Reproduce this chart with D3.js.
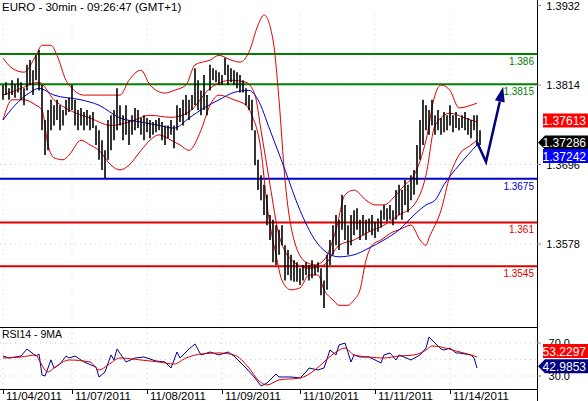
<!DOCTYPE html>
<html><head><meta charset="utf-8">
<script src="https://cdn.jsdelivr.net/npm/d3@7"></script>
<style>body{margin:0;background:#fff}svg{display:block;font-family:"Liberation Sans",Arial,sans-serif}</style>
</head><body><svg id="c" width="588" height="401"></svg>
<script>
const barHi=[1.3814,1.3818,1.3809,1.3821,1.3815,1.3824,1.3818,1.3809,1.3844,1.3851,1.3836,1.3858,1.3866,1.3814,1.3762,1.3777,1.3792,1.3784,1.3792,1.3784,1.3777,1.3792,1.3795,1.3814,1.3792,1.3777,1.3780,1.3774,1.3777,1.3769,1.3774,1.3754,1.3747,1.3732,1.3717,1.3762,1.3769,1.3777,1.3809,1.3784,1.3769,1.3784,1.3762,1.3769,1.3780,1.3777,1.3765,1.3769,1.3765,1.3762,1.3759,1.3762,1.3765,1.3759,1.3754,1.3754,1.3762,1.3754,1.3784,1.3780,1.3792,1.3799,1.3792,1.3799,1.3839,1.3821,1.3806,1.3829,1.3799,1.3844,1.3839,1.3836,1.3833,1.3829,1.3854,1.3844,1.3839,1.3836,1.3833,1.3829,1.3821,1.3809,1.3799,1.3792,1.3747,1.3703,1.3680,1.3666,1.3651,1.3621,1.3614,1.3606,1.3599,1.3606,1.3576,1.3569,1.3562,1.3554,1.3551,1.3542,1.3547,1.3551,1.3547,1.3554,1.3547,1.3551,1.3542,1.3524,1.3562,1.3584,1.3606,1.3621,1.3614,1.3651,1.3636,1.3606,1.3621,1.3628,1.3631,1.3614,1.3621,1.3614,1.3616,1.3621,1.3611,1.3616,1.3628,1.3636,1.3631,1.3636,1.3628,1.3658,1.3666,1.3658,1.3673,1.3666,1.3680,1.3688,1.3725,1.3762,1.3792,1.3784,1.3777,1.3792,1.3769,1.3777,1.3765,1.3774,1.3769,1.3784,1.3769,1.3774,1.3765,1.3769,1.3774,1.3765,1.3762,1.3769,1.3769,1.3747];
const barLo=[1.3792,1.3799,1.3792,1.3799,1.3795,1.3803,1.3792,1.3784,1.3806,1.3814,1.3799,1.3821,1.3806,1.3747,1.3710,1.3717,1.3747,1.3754,1.3762,1.3747,1.3754,1.3769,1.3774,1.3777,1.3754,1.3747,1.3754,1.3747,1.3754,1.3747,1.3750,1.3725,1.3703,1.3688,1.3676,1.3703,1.3717,1.3732,1.3747,1.3754,1.3732,1.3740,1.3725,1.3740,1.3747,1.3750,1.3740,1.3732,1.3744,1.3735,1.3740,1.3744,1.3747,1.3732,1.3725,1.3735,1.3740,1.3720,1.3747,1.3759,1.3754,1.3769,1.3762,1.3777,1.3784,1.3777,1.3769,1.3777,1.3769,1.3806,1.3821,1.3818,1.3814,1.3814,1.3829,1.3814,1.3818,1.3814,1.3809,1.3803,1.3803,1.3784,1.3777,1.3747,1.3695,1.3658,1.3643,1.3621,1.3606,1.3584,1.3551,1.3547,1.3562,1.3576,1.3524,1.3532,1.3524,1.3522,1.3522,1.3517,1.3524,1.3532,1.3524,1.3527,1.3532,1.3536,1.3502,1.3483,1.3510,1.3547,1.3562,1.3576,1.3569,1.3599,1.3584,1.3562,1.3576,1.3591,1.3599,1.3584,1.3591,1.3584,1.3596,1.3591,1.3587,1.3596,1.3602,1.3614,1.3611,1.3614,1.3606,1.3614,1.3621,1.3614,1.3636,1.3625,1.3643,1.3651,1.3666,1.3703,1.3725,1.3747,1.3740,1.3754,1.3740,1.3747,1.3740,1.3744,1.3747,1.3754,1.3744,1.3750,1.3747,1.3750,1.3747,1.3740,1.3735,1.3747,1.3725,1.3725];

const upperBar=[0,3,7,11,13,16,18,21,23,27,32,39,42,46,49,54,57,61,64,69,72,76,79,82,85,87,90,92,94,97,101,104,107,111,114,117,121,124,127,131,134,137,141,144,146,149,152,156,158];
const upperVal=[1.3854,1.3839,1.3833,1.3858,1.3873,1.3873,1.3858,1.3821,1.3809,1.3799,1.3799,1.3799,1.3821,1.3836,1.3814,1.3802,1.3806,1.3814,1.3844,1.3851,1.3858,1.3851,1.3848,1.3863,1.3903,1.3918,1.3881,1.3792,1.3673,1.3584,1.3551,1.3547,1.3554,1.3599,1.3651,1.3658,1.3643,1.3636,1.3636,1.3651,1.3666,1.3680,1.3732,1.3799,1.3814,1.3806,1.3780,1.3784,1.3787];
const midBar=[0,6,12,17,22,29,36,42,49,56,62,69,76,81,84,86,89,92,97,102,107,112,117,122,127,132,137,141,144,149,154,158];
const midVal=[1.3799,1.3809,1.3818,1.3792,1.3777,1.3765,1.3754,1.3759,1.3769,1.3766,1.3774,1.3809,1.3821,1.3818,1.3799,1.3747,1.3666,1.3591,1.3551,1.3542,1.3547,1.3576,1.3584,1.3596,1.3606,1.3621,1.3636,1.3680,1.3754,1.3772,1.3765,1.3759];
const lowerBar=[0,3,7,11,13,15,17,20,22,26,29,32,36,39,42,46,49,52,56,59,62,66,69,72,77,81,83,86,88,91,93,96,99,102,105,107,110,112,115,117,119,121,123,126,130,132,136,139,141,142,146,149,152,156,158];
const lowerVal=[1.3762,1.3792,1.3792,1.3784,1.3777,1.3725,1.3706,1.3703,1.3710,1.3732,1.3725,1.3717,1.3695,1.3688,1.3695,1.3717,1.3732,1.3740,1.3732,1.3725,1.3717,1.3747,1.3784,1.3799,1.3792,1.3784,1.3769,1.3717,1.3636,1.3562,1.3524,1.3510,1.3513,1.3532,1.3532,1.3510,1.3495,1.3487,1.3487,1.3495,1.3510,1.3554,1.3576,1.3584,1.3596,1.3599,1.3606,1.3584,1.3576,1.3587,1.3628,1.3680,1.3710,1.3725,1.3732];
const maBar=[0,4,9,12,17,26,32,39,46,52,57,62,67,72,77,82,85,89,94,99,104,108,112,117,122,127,132,137,141,144,147,152,158];
const maVal=[1.3762,1.3784,1.3803,1.3809,1.3799,1.3792,1.3784,1.3765,1.3759,1.3754,1.3750,1.3765,1.3780,1.3792,1.3803,1.3806,1.3792,1.3747,1.3688,1.3628,1.3584,1.3565,1.3559,1.3562,1.3572,1.3584,1.3599,1.3621,1.3636,1.3643,1.3666,1.3695,1.3725];

const rsiBar=[0,2,6,8,11,12,13,14,16,17,19,21,22,24,27,31,32,34,36,37,38,41,44,47,51,54,56,58,59,62,64,66,69,72,75,77,81,84,86,88,91,92,96,99,101,102,105,107,109,111,112,114,116,117,119,122,126,127,129,131,132,136,139,141,142,144,146,147,149,151,152,156,157,158];
const rsiVal=[54.2,51.8,54.2,62.7,54.2,56.7,31.2,30.0,49.4,39.7,44.5,54.2,51.8,54.2,47.0,40.9,28.8,34.8,55.5,49.4,62.7,47.0,51.8,53.0,48.2,47.0,39.7,59.1,51.8,62.7,68.8,55.5,59.1,55.5,59.1,54.2,39.7,27.6,17.9,21.5,32.4,28.8,28.8,27.6,34.8,39.7,37.3,39.7,61.5,55.5,67.6,70.0,47.0,55.5,53.0,53.0,45.8,55.5,57.9,49.4,55.5,49.4,55.5,63.9,77.3,70.0,62.7,61.5,63.9,57.9,57.9,55.5,51.8,39.7];
const rsiMaBar=[0,6,11,12,15,17,22,29,32,35,39,46,52,57,61,66,72,77,82,85,88,92,99,104,107,111,114,117,122,127,132,137,141,143,146,151,156,158];
const rsiMaVal=[51.8,53.0,55.5,49.4,34.8,39.7,49.4,47.0,37.3,43.3,51.8,49.4,47.0,44.5,51.8,56.7,57.9,55.5,39.7,25.2,19.1,25.2,27.6,37.3,47.0,59.1,63.9,55.5,53.0,51.8,54.2,55.5,61.5,66.4,65.2,60.3,55.5,53.0];

const levels=[{v:1.386,t:"1.386",c:"#008000"},{v:1.3815,t:"1.3815",c:"#008000"},{v:1.3675,t:"1.3675",c:"#0000cc"},{v:1.361,t:"1.361",c:"#dd0000"},{v:1.3545,t:"1.3545",c:"#dd0000"}];
const priceTicks=[1.3932,1.3814,1.3696,1.3578];
const rsiTicks=[70,30];
const dateBars=[0,23,48,73,99,124,149];
const dateLabels=["11/04/2011","11/07/2011","11/08/2011","11/09/2011","11/10/2011","11/11/2011","11/14/2011"];
const forecastBar=[158,161,166.5];
const forecastVal=[1.3729,1.3700,1.3807];
const boxes=[{v:1.37613,t:"1.37613",c:"#ff0000",arrow:false},{v:1.37286,t:"1.37286",c:"#000000",arrow:true},{v:1.37242,t:"1.37242",c:"#0000ff",arrow:false}];
const rsiBoxes=[{v:53.2297,t:"53.2297",c:"#ff0000",arrow:false},{v:42.9853,t:"42.9853",c:"#000080",arrow:true}];

const svg=d3.select("#c");
const R=537;
const x=d3.scaleLinear().domain([0,178]).range([3,537]);
const y=d3.scaleLinear().domain([1.3578,1.3814]).range([244,85]);
const ry=d3.scaleLinear().domain([30,70]).range([376,343]);

// main panel clip
svg.append("defs").append("clipPath").attr("id","mc").append("rect").attr("x",0).attr("y",14).attr("width",R).attr("height",313);
const g=svg.append("g").attr("clip-path","url(#mc)");
// grid
priceTicks.forEach(v=>g.append("line").attr("x1",0).attr("x2",R).attr("y1",y(v)).attr("y2",y(v)).attr("stroke","#ccc").attr("stroke-dasharray","1,4"));
dateBars.forEach(b=>{g.append("line").attr("x1",x(b)).attr("x2",x(b)).attr("y1",14).attr("y2",327).attr("stroke","#ddd").attr("stroke-dasharray","1,4");
 svg.append("line").attr("x1",x(b)).attr("x2",x(b)).attr("y1",328).attr("y2",389).attr("stroke","#ccc").attr("stroke-dasharray","1,4");});
// levels
levels.forEach(l=>{g.append("line").attr("x1",0).attr("x2",R).attr("y1",y(l.v)).attr("y2",y(l.v)).attr("stroke",l.c).attr("stroke-width",2);
 svg.append("text").attr("x",534).attr("y",y(l.v)+11).attr("text-anchor","end").attr("font-size",10).attr("fill",l.c).text(l.t);});
const line=(bs,vs,sc)=>d3.line().x((d,i)=>x(bs[i])).y(d=>sc(d)).curve(d3.curveMonotoneX)(vs);
[[upperBar,upperVal],[midBar,midVal],[lowerBar,lowerVal]].forEach(([b,v])=>g.append("path").attr("d",line(b,v,y)).attr("fill","none").attr("stroke","#dd0000").attr("stroke-width",1));
g.append("path").attr("d",line(maBar,maVal,y)).attr("fill","none").attr("stroke","#0000cc").attr("stroke-width",1);
// bars
g.selectAll(".b").data(barHi).join("line").attr("x1",(d,i)=>x(i)).attr("x2",(d,i)=>x(i)).attr("y1",d=>y(d)).attr("y2",(d,i)=>y(barLo[i])).attr("stroke","#000").attr("stroke-width",1.6);
// forecast
const fp=forecastBar.map((b,i)=>[x(b),y(forecastVal[i])]);
const tip=fp[2],pr=fp[1];const ang=Math.atan2(tip[1]-pr[1],tip[0]-pr[0]);
const base=[tip[0]-12*Math.cos(ang),tip[1]-12*Math.sin(ang)];
svg.append("path").attr("d",d3.line()([fp[0],fp[1],base])).attr("fill","none").attr("stroke","#000080").attr("stroke-width",2.5);
const nx=-Math.sin(ang),ny=Math.cos(ang);
svg.append("path").attr("d",`M${tip[0]+3*Math.cos(ang)},${tip[1]+3*Math.sin(ang)}L${base[0]+5*nx},${base[1]+5*ny}L${base[0]-5*nx},${base[1]-5*ny}Z`).attr("fill","#000080");

// axes
svg.append("line").attr("x1",R+0.5).attr("x2",R+0.5).attr("y1",0).attr("y2",401).attr("stroke","#000");
svg.append("line").attr("x1",0).attr("x2",R).attr("y1",327.5).attr("y2",327.5).attr("stroke","#000");
svg.append("line").attr("x1",0).attr("x2",R).attr("y1",389.5).attr("y2",389.5).attr("stroke","#000");
priceTicks.forEach(v=>{svg.append("line").attr("x1",R).attr("x2",R+4).attr("y1",y(v)).attr("y2",y(v)).attr("stroke","#888");
 svg.append("text").attr("x",580).attr("y",y(v)+4).attr("text-anchor","end").attr("font-size",11).text(v.toFixed(4));});
rsiTicks.forEach(v=>{svg.append("line").attr("x1",0).attr("x2",R).attr("y1",ry(v)).attr("y2",ry(v)).attr("stroke","#ccc").attr("stroke-dasharray","1,4");
 svg.append("line").attr("x1",R).attr("x2",R+4).attr("y1",ry(v)).attr("y2",ry(v)).attr("stroke","#888");
 svg.append("text").attr("x",570).attr("y",ry(v)+4).attr("text-anchor","end").attr("font-size",11).text(v.toFixed(1));});
svg.append("line").attr("x1",0).attr("x2",R).attr("y1",ry(50)).attr("y2",ry(50)).attr("stroke","#ccc").attr("stroke-dasharray","1,4");
function box(yy,b){const gg=svg.append("g");
 if(b.arrow) gg.append("path").attr("d",`M${R+1},${yy}L${R+8},${yy-7}H588V${yy+7}H${R+8}Z`).attr("fill",b.c);
 else gg.append("rect").attr("x",543).attr("y",yy-7).attr("width",45).attr("height",14).attr("fill",b.c);
 gg.append("text").attr("x",586).attr("y",yy+4.5).attr("text-anchor","end").attr("font-size",12).attr("fill","#fff").text(b.t);}
boxes.forEach((b,i)=>box(i==2?156:y(b.v),b));
rsiBoxes.forEach((b,i)=>box(i==0?351:ry(b.v)+1,b));
// rsi
svg.append("path").attr("d",line(rsiBar,rsiVal,ry)).attr("fill","none").attr("stroke","#000099").attr("stroke-width",1).attr("transform","").attr("d",d3.line().x((d,i)=>x(rsiBar[i])).y(d=>ry(d))(rsiVal));
svg.append("path").attr("d",line(rsiMaBar,rsiMaVal,ry)).attr("fill","none").attr("stroke","#dd0000").attr("stroke-width",1);
// texts
svg.append("text").attr("x",2).attr("y",11).attr("font-size",11.5).text("EURO - 30min - 09:26:47 (GMT+1)");
svg.append("text").attr("x",2).attr("y",338).attr("font-size",10.5).text("RSI14 - 9MA");
dateBars.forEach((b,i)=>{svg.append("line").attr("x1",x(b)+0.5).attr("x2",x(b)+0.5).attr("y1",390).attr("y2",394).attr("stroke","#000");
 svg.append("text").attr("x",x(b)+3).attr("y",400).attr("font-size",11.5).text(dateLabels[i]);});
</script></body></html>
